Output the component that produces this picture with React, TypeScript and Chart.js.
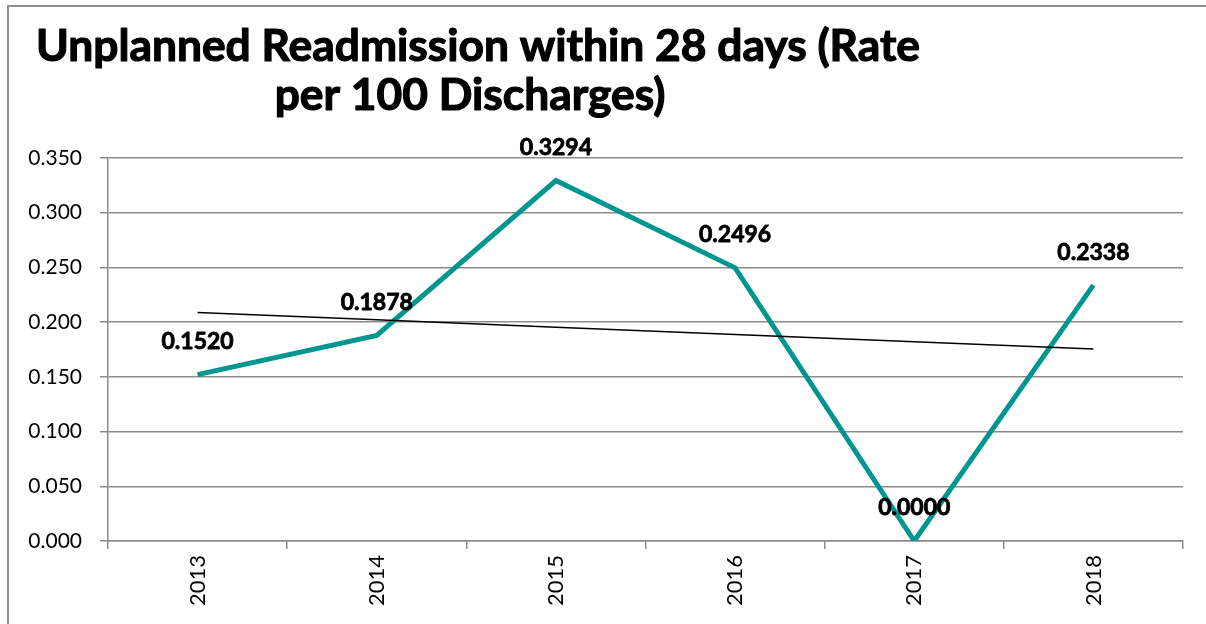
import React, { useEffect, useRef } from "react";
import { Chart, registerables } from "chart.js";

Chart.register(...registerables);

const years = ["2013", "2014", "2015", "2016", "2017", "2018"];
const rates = [0.152, 0.1878, 0.3294, 0.2496, 0.0, 0.2338];
const titleLines = ["Unplanned Readmission within 28 days (Rate", "per 100 Discharges)"];
const yMin = 0;
const yMax = 0.35;
const yStep = 0.05;

// linear trendline (least squares), as in the original spreadsheet chart
function linearTrend(values: number[]): number[] {
  const n = values.length;
  const mx = (n - 1) / 2;
  const my = values.reduce((a, b) => a + b, 0) / n;
  let sxy = 0;
  let sxx = 0;
  values.forEach((v, i) => {
    sxy += (i - mx) * (v - my);
    sxx += (i - mx) * (i - mx);
  });
  const slope = sxy / sxx;
  return values.map((_, i) => my + slope * (i - mx));
}

const FONT = "Lato, 'Open Sans', sans-serif";

const framePlugin = {
  id: "frame",
  beforeDraw(chart: any) {
    const ctx = chart.ctx;
    ctx.save();
    ctx.strokeStyle = "#8c8c8c";
    ctx.lineWidth = 2;
    ctx.beginPath();
    ctx.moveTo(8, chart.height);
    ctx.lineTo(8, 6);
    ctx.lineTo(chart.width, 6);
    ctx.stroke();

    // title
    ctx.fillStyle = "#000";
    ctx.strokeStyle = "#000";
    ctx.lineWidth = 1.2;
    ctx.lineJoin = "round";
    ctx.textBaseline = "alphabetic";
    ctx.textAlign = "center";
    const base = 36;
    ctx.font = `bold ${base}px ${FONT}`;
    const w1 = ctx.measureText(titleLines[0]).width;
    const size = (base * 884) / w1;
    ctx.font = `bold ${size}px ${FONT}`;
    ctx.fillText(titleLines[0], 478, 61);
    ctx.strokeText(titleLines[0], 478, 61);
    ctx.fillText(titleLines[1], 470, 110);
    ctx.strokeText(titleLines[1], 470, 110);
    ctx.restore();
  },
};

const labelPlugin = {
  id: "pointLabels",
  afterDatasetsDraw(chart: any) {
    const ctx = chart.ctx;
    const ds = chart.data.datasets.findIndex((d: any) => d.label === "Rate");
    const meta = chart.getDatasetMeta(ds);
    ctx.save();
    ctx.fillStyle = "#000";
    ctx.strokeStyle = "#000";
    ctx.lineWidth = 0.8;
    ctx.lineJoin = "round";
    ctx.font = `bold 23px ${FONT}`;
    ctx.textAlign = "center";
    ctx.textBaseline = "middle";
    meta.data.forEach((pt: any, i: number) => {
      const t = rates[i].toFixed(4);
      ctx.fillText(t, pt.x, pt.y - 33);
      ctx.strokeText(t, pt.x, pt.y - 33);
    });
    ctx.restore();
  },
};

export default function App() {
  const ref = useRef<HTMLCanvasElement>(null);
  useEffect(() => {
    if (!ref.current) return;
    const chart = new Chart(ref.current, {
      type: "line",
      data: {
        labels: years,
        datasets: [
          {
            label: "Trend",
            data: linearTrend(rates),
            borderColor: "#000",
            borderWidth: 1.5,
            pointRadius: 0,
            order: 0,
          },
          {
            label: "Rate",
            data: rates,
            borderColor: "#009690",
            borderWidth: 5,
            pointRadius: 0,
            borderJoinStyle: "miter",
            order: 1,
          },
        ],
      },
      plugins: [framePlugin, labelPlugin],
      options: {
        animation: false,
        responsive: false,
        maintainAspectRatio: false,
        layout: { padding: { left: 0, right: 23, top: 158, bottom: 0 } },
        plugins: {
          legend: { display: false },
          title: { display: false },
          tooltip: { enabled: false },
        },
        scales: {
          x: {
            offset: true,
            grid: {
              offset: true,
              drawOnChartArea: false,
              drawTicks: true,
              tickLength: 8,
              color: "#8c8c8c",
              lineWidth: 1.5,
            },
            border: { display: true, color: "#8c8c8c", width: 1.5 },
            ticks: {
              minRotation: 90,
              maxRotation: 90,
              padding: 6,
              color: "#000",
              font: { family: FONT, size: 22 },
            },
            afterFit(scale: any) {
              scale.height = 624 - 541;
            },
          },
          y: {
            min: yMin,
            max: yMax,
            ticks: {
              stepSize: yStep,
              padding: 18,
              color: "#000",
              font: { family: FONT, size: 21 },
              callback: (v: any) => Number(v).toFixed(3),
            },
            grid: {
              color: "#8c8c8c",
              lineWidth: 1.5,
              tickLength: 8,
            },
            border: { display: true, color: "#8c8c8c", width: 1.5 },
            afterFit(scale: any) {
              scale.width = 108;
            },
          },
        },
      },
    });
    return () => chart.destroy();
  }, []);
  return (
    <div style={{ position: "fixed", left: 0, top: 0, width: 1206, height: 624, background: "#fff" }}>
      <canvas ref={ref} width={1206} height={624} style={{ width: 1206, height: 624 }} />
    </div>
  );
}
